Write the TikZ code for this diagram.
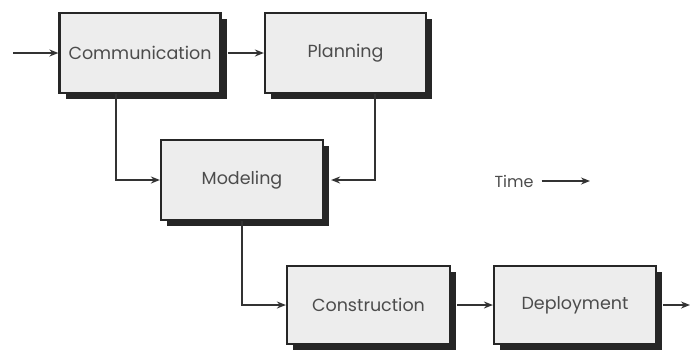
\documentclass[tikz,border=0pt]{standalone}
\usepackage{fontspec}
\setmainfont{Poppins}
\usetikzlibrary{arrows.meta,shadows,calc}
\begin{document}
\begin{tikzpicture}[x=1pt,y=-1pt,
  stagebox/.style={draw=black!85, line width=2.2pt, fill=gray!14,
    minimum width=161pt, minimum height=80pt, inner sep=0pt,
    font=\fontsize{17.5}{20}\selectfont, text=black!70,
    drop shadow={shadow xshift=6pt, shadow yshift=-6pt, fill=black!85, opacity=1}},
  flow/.style={draw=black!80, line width=2.4pt, -{Stealth[length=9pt,width=7pt]}}
]
\useasboundingbox (0,0) rectangle (690,349);
\node[stagebox] (comm) at (140,53) {Communication};
\node[stagebox] (plan) at (345.5,53) {Planning};
\node[stagebox, minimum width=162pt] (model) at (242,180) {Modeling};
\node[stagebox, minimum width=163pt, minimum height=78pt] (cons) at (368.5,305) {Construction};
\node[stagebox, minimum width=162pt, minimum height=78pt] (depl) at (575,305) {Deployment};
\node[font=\fontsize{16}{18}\selectfont, text=black!70, inner sep=0pt] (time) at (514,181) {Time};
\coordinate (in) at (13,53);
\coordinate (out) at (690,305);
\coordinate (timeend) at (590,181);
\draw[flow] (in) -- (comm.west);
\draw[flow] ([xshift=6pt]comm.east) -- (plan.west);
\draw[flow] ([xshift=-24pt]comm.south) |- (model.west);
\draw[flow] ([xshift=29.5pt]plan.south) |- ([xshift=7pt]model.east);
\draw[flow] (model.south) |- (cons.west);
\draw[flow] ([xshift=6pt]cons.east) -- (depl.west);
\draw[flow] ([xshift=6pt]depl.east) -- (out);
\draw[flow, line width=2.2pt] ([xshift=8pt]time.east) -- (timeend);
\end{tikzpicture}
\end{document}
